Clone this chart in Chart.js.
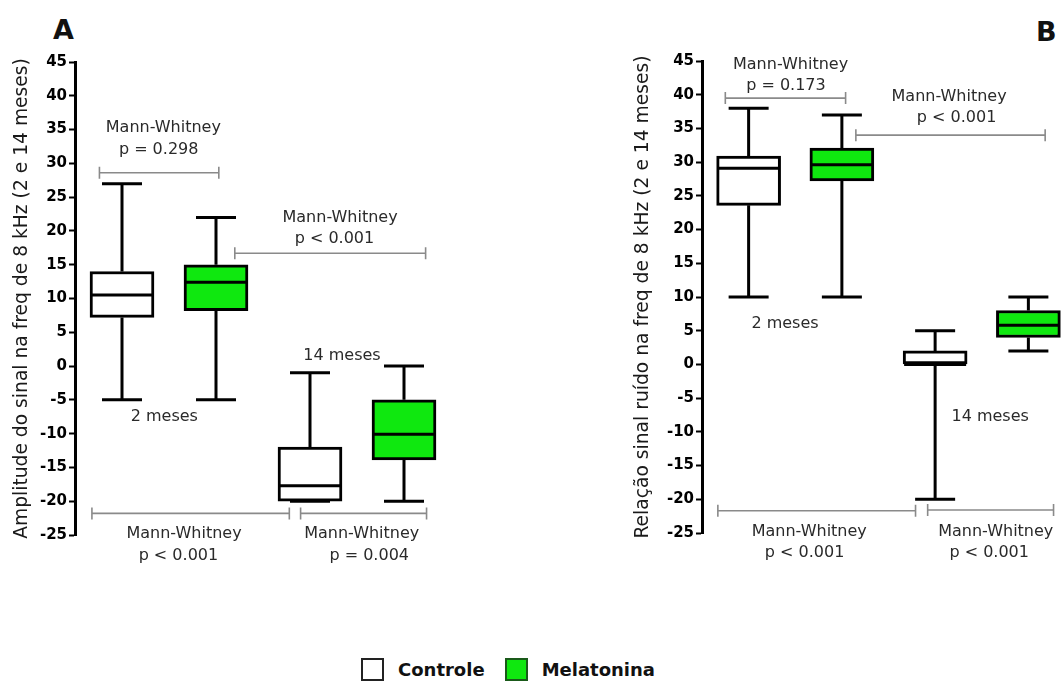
<!DOCTYPE html>
<html>
<head>
<meta charset="utf-8">
<script src="https://cdn.jsdelivr.net/npm/chart.js@4.4.1/dist/chart.umd.min.js"></script>
<style>
body { margin: 0; width: 1061px; height: 682px; overflow: hidden; background: #fff; position: relative; font-family: 'DejaVu Sans', sans-serif; }
canvas { position: absolute; top: 0; }
.letter { position: absolute; font-weight: bold; font-size: 27px; color: #111; }
.legend { position: absolute; top: 658px; display: flex; align-items: center; font-weight: bold; font-size: 18px; color: #111; }
.sq { width: 19px; height: 19px; border: 2px solid #222; margin-right: 14px; }
</style>
</head>
<body>
<div class="letter" style="left:53px; top:14px">A</div>
<div class="letter" style="left:1036px; top:16px">B</div>
<canvas id="chartA" width="470" height="600" style="left:0"></canvas>
<canvas id="chartB" width="480" height="600" style="left:620px"></canvas>
<div class="legend" style="left:361px">
  <div class="sq" style="background:#fff"></div><span>Controle</span>
  <div class="sq" style="background:#0fe80f; margin-left:20px; border-color:#1a5a1a"></div><span>Melatonina</span>
</div>
<script>
// groups, left to right
const categories = ['Controle 2 meses', 'Melatonina 2 meses', 'Controle 14 meses', 'Melatonina 14 meses']
const groupIndex = [1, 2, 3, 4]
const yMin = -25
const yMax = 45
const yStep = 5

// A - amplitude do sinal
const ampMin = [-5, -5, -20, -20]
const ampQ1 = [7.2, 8.2, -20, -13.9]
const ampMedian = [10.5, 12.4, -17.7, -10.1]
const ampQ3 = [14, 15, -12, -5]
const ampMax = [27, 22, -1, 0]

// B - relacao sinal ruido
const snrMin = [10, 10, -20, 2]
const snrQ1 = [23.6, 27.2, 0, 4]
const snrMedian = [29.1, 29.6, 0, 5.8]
const snrQ3 = [30.9, 32.1, 2, 8]
const snrMax = [38, 37, 5, 10]

const GREEN = '#0fe80f'
const TEXT = '#2a2a2a'

//whiskers + medians, drawn on top of the floating bars
const boxPlugin = {
    id: 'boxWhisker',
    afterDatasetsDraw(chart) {
        const ctx = chart.ctx
        const y = chart.scales.y
        ctx.save()
        ctx.strokeStyle = '#000'
        ctx.lineWidth = 3
        chart.data.datasets.forEach((ds, di) => {
            const meta = chart.getDatasetMeta(di)
            meta.data.forEach((bar, i) => {
                const st = ds.stats[i]
                if (!st) return
                const cx = bar.x
                const half = bar.width / 2
                const cap = 20
                const yq1 = y.getPixelForValue(st.q1)
                const yq3 = y.getPixelForValue(st.q3)
                const ymin = y.getPixelForValue(st.min)
                const ymax = y.getPixelForValue(st.max)
                const ymed = y.getPixelForValue(st.med)
                ctx.beginPath()
                ctx.moveTo(cx, yq3); ctx.lineTo(cx, ymax)
                ctx.moveTo(cx - cap, ymax); ctx.lineTo(cx + cap, ymax)
                ctx.moveTo(cx, yq1); ctx.lineTo(cx, ymin)
                ctx.moveTo(cx - cap, ymin); ctx.lineTo(cx + cap, ymin)
                ctx.moveTo(cx - half + 1, ymed); ctx.lineTo(cx + half - 1, ymed)
                ctx.stroke()
            })
        })
        ctx.restore()
    }
}

//significance brackets and texts, placed in axis units
function makeNotes(brackets, labels) {
    return {
        id: 'notes',
        afterDraw(chart) {
            const ctx = chart.ctx
            const x = chart.scales.x
            const y = chart.scales.y
            ctx.save()
            ctx.strokeStyle = '#8a8a8a'
            ctx.lineWidth = 1.6
            brackets.forEach(b => {
                const x0 = x.getPixelForValue(b.from)
                const x1 = x.getPixelForValue(b.to)
                const py = y.getPixelForValue(b.y)
                ctx.beginPath()
                ctx.moveTo(x0, py); ctx.lineTo(x1, py)
                ctx.moveTo(x0, py - 6); ctx.lineTo(x0, py + 6)
                ctx.moveTo(x1, py - 6); ctx.lineTo(x1, py + 6)
                ctx.stroke()
            })
            ctx.fillStyle = TEXT
            ctx.font = '16px "DejaVu Sans"'
            ctx.textAlign = 'center'
            ctx.textBaseline = 'middle'
            labels.forEach(l => {
                ctx.fillText(l.text, x.getPixelForValue(l.x), y.getPixelForValue(l.y))
            })
            ctx.restore()
        }
    }
}

function statsOf(mins, q1s, meds, q3s, maxs, idx) {
    return groupIndex.map((g, i) => idx.includes(i) ? {min: mins[i], q1: q1s[i], med: meds[i], q3: q3s[i], max: maxs[i]} : null)
}

function buildChart(canvasId, title, mins, q1s, meds, q3s, maxs, axisWidth, padRight, padBottom, padTop, titlePad, notes) {
    const boxes = (idx) => groupIndex.map((g, i) => idx.includes(i) ? {x: g, y: [q1s[i], q3s[i]]} : null).filter(d => d)
    return new Chart(document.getElementById(canvasId), {
        type: 'bar',
        data: {
            datasets: [
                {
                    label: 'Controle',
                    data: boxes([0, 2]),
                    stats: statsOf(mins, q1s, meds, q3s, maxs, [0, 2]).filter(d => d),
                    backgroundColor: '#fff',
                    borderColor: '#000',
                    borderWidth: 3,
                    borderSkipped: false,
                    barThickness: 64,
                    grouped: false
                },
                {
                    label: 'Melatonina',
                    data: boxes([1, 3]),
                    stats: statsOf(mins, q1s, meds, q3s, maxs, [1, 3]).filter(d => d),
                    backgroundColor: GREEN,
                    borderColor: '#000',
                    borderWidth: 3,
                    borderSkipped: false,
                    barThickness: 64,
                    grouped: false
                }
            ]
        },
        options: {
            responsive: false,
            animation: false,
            devicePixelRatio: 1,
            layout: {padding: {left: 0, right: padRight, top: padTop, bottom: padBottom}},
            plugins: {legend: {display: false}, tooltip: {enabled: false}},
            scales: {
                x: {type: 'linear', min: 0.5, max: 4.5, offset: false, display: false},
                y: {
                    min: yMin,
                    max: yMax,
                    afterFit: (s) => { s.width = axisWidth },
                    ticks: {
                        stepSize: yStep,
                        color: '#000',
                        padding: 2,
                        font: {family: 'DejaVu Sans', size: 15, weight: 'bold'}
                    },
                    grid: {drawOnChartArea: false, drawTicks: true, tickLength: 6, tickWidth: 2, tickColor: '#000'},
                    border: {display: true, color: '#000', width: 3},
                    title: {
                        display: true,
                        text: title,
                        color: '#1a1a1a',
                        padding: {top: titlePad, bottom: 0},
                        font: {family: 'DejaVu Sans', size: 18.7}
                    }
                }
            }
        },
        plugins: [boxPlugin, notes]
    })
}

const notesA = makeNotes(
    [
        {from: 0.76, to: 2.03, y: 28.6},
        {from: 2.20, to: 4.23, y: 16.7},
        {from: 0.68, to: 2.78, y: -21.8},
        {from: 2.90, to: 4.24, y: -21.8}
    ],
    [
        {text: 'Mann-Whitney', x: 1.44, y: 35.2},
        {text: 'p = 0.298', x: 1.39, y: 32.0},
        {text: 'Mann-Whitney', x: 3.32, y: 22.0},
        {text: 'p < 0.001', x: 3.26, y: 18.9},
        {text: '14 meses', x: 3.34, y: 1.5},
        {text: '2 meses', x: 1.45, y: -7.5},
        {text: 'Mann-Whitney', x: 1.66, y: -24.9},
        {text: 'p < 0.001', x: 1.60, y: -28.1},
        {text: 'Mann-Whitney', x: 3.55, y: -24.9},
        {text: 'p = 0.004', x: 3.63, y: -28.1}
    ]
)

const notesB = makeNotes(
    [
        {from: 0.75, to: 2.04, y: 39.5},
        {from: 2.15, to: 4.18, y: 34.0},
        {from: 0.67, to: 2.79, y: -21.7},
        {from: 2.92, to: 4.27, y: -21.6}
    ],
    [
        {text: 'Mann-Whitney', x: 1.45, y: 44.4},
        {text: 'p = 0.173', x: 1.40, y: 41.3},
        {text: 'Mann-Whitney', x: 3.15, y: 39.7},
        {text: 'p < 0.001', x: 3.23, y: 36.5},
        {text: '2 meses', x: 1.39, y: 6.0},
        {text: '14 meses', x: 3.59, y: -7.8},
        {text: 'Mann-Whitney', x: 1.65, y: -24.9},
        {text: 'p < 0.001', x: 1.60, y: -28.0},
        {text: 'Mann-Whitney', x: 3.65, y: -24.9},
        {text: 'p < 0.001', x: 3.58, y: -28.0}
    ]
)

buildChart('chartA', 'Amplitude do sinal na freq de 8 kHz (2 e 14 meses)',
    ampMin, ampQ1, ampMedian, ampQ3, ampMax, 75, 19, 65, 62, 11, notesA)
buildChart('chartB', 'Relação sinal ruído na freq de 8 kHz (2 e 14 meses)',
    snrMin, snrQ1, snrMedian, snrQ3, snrMax, 82, 25, 67, 61, 12, notesB)
</script>
</body>
</html>
